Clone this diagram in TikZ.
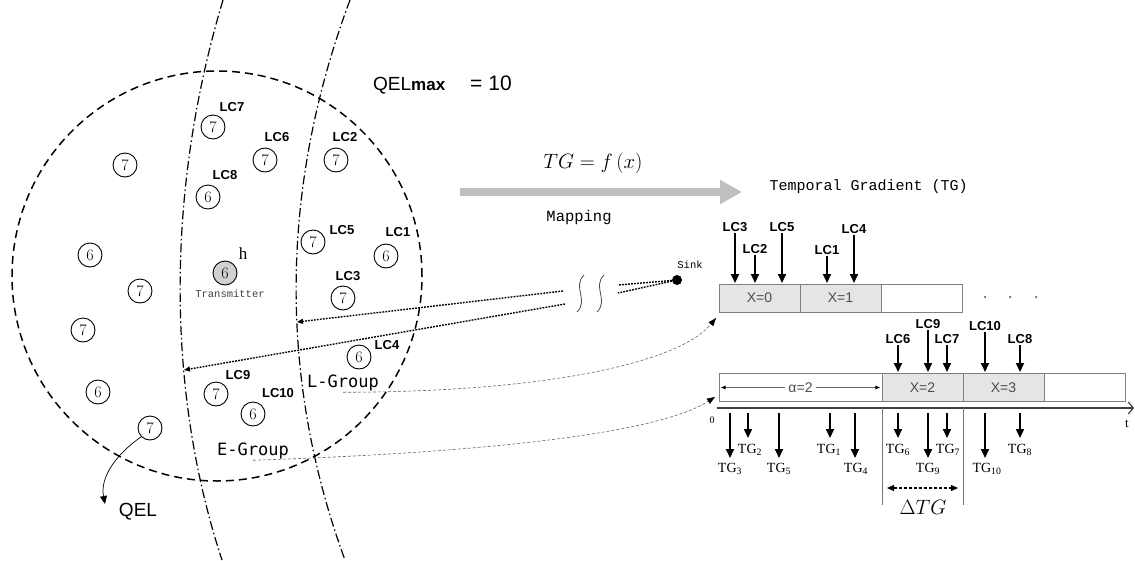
\documentclass[tikz,border=0pt]{standalone}
\usepackage{fontspec}
\usetikzlibrary{arrows.meta}
\newfontfamily\lsans{Liberation Sans}
\newfontfamily\lmono{Liberation Mono}
\newfontfamily\dmono{DejaVu Sans Mono}
\newfontfamily\lserif{Liberation Serif}
\begin{document}
\begin{tikzpicture}[x=1pt,y=-1pt,
 num/.style={circle,draw,line width=0.9pt,minimum size=24pt,inner sep=0pt,font=\fontsize{16}{16}\selectfont},
 lcl/.style={inner sep=1.5pt,font=\lsans\bfseries\fontsize{13}{13}\selectfont},
 zone/.style={dash pattern=on 8pt off 5pt,line width=1.5pt},
 ddot/.style={dash pattern=on 9pt off 3pt on 1.5pt off 3pt,line width=1.2pt},
 dotl/.style={dash pattern=on 1.8pt off 1.2pt,line width=1.4pt},
 link/.style={dash pattern=on 3pt off 2pt,line width=0.6pt,draw=black!60,-{Triangle[length=8pt,width=6pt,color=black]}},
 dar/.style={line width=1.8pt,-{Triangle[length=9pt,width=8pt]}},
 cell/.style={draw=black!50,line width=0.9pt,minimum height=28pt,minimum width=81pt,inner sep=0pt,font=\lsans\fontsize{14}{14}\selectfont,text=black!70},
 tgl/.style={inner sep=1pt,font=\lserif\fontsize{14}{14}\selectfont},
 grp/.style={inner sep=1pt,font=\dmono\fontsize{17}{17}\selectfont},
]
\useasboundingbox (0,0) rectangle (1135,560);

% zone and group boundaries
\node[circle,draw,zone,minimum size=410pt,inner sep=0pt] (zone) at (217,276) {};
\draw[ddot] (223,0) .. controls (166,190) and (166,390) .. (222,560);
\draw[ddot] (350,0) .. controls (279,190) and (279,380) .. (345,560);

% nodes in zone
\node[num] (n1) at (125,165) {7};
\node[num] (n2) at (90,255) {6};
\node[num] (n3) at (140,291) {7};
\node[num] (n4) at (83,330) {7};
\node[num] (n5) at (98,392) {6};
\node[num] (q) at (150,428) {7};
\node[num] (c7) at (213,127) {7};
\node[lcl] (l7) at (232,107) {LC7};
\node[num] (c6) at (265,160) {7};
\node[lcl] (l6) at (277,137) {LC6};
\node[num] (c2) at (336,160) {7};
\node[lcl] (l2) at (345,137) {LC2};
\node[num] (c8) at (208,197) {6};
\node[lcl] (l8) at (225,175) {LC8};
\node[num,fill=black!18] (tr) at (225,273) {6};
\node[font=\lserif\fontsize{17}{17}\selectfont] (h) at (243,254) {h};
\node[font=\lmono\fontsize{10.5}{10.5}\selectfont,text=black!75] (trl) at (230,294) {Transmitter};
\node[num] (c5) at (313,242) {7};
\node[lcl] (l5) at (342,230) {LC5};
\node[num] (c1) at (386,256) {6};
\node[lcl] (l1) at (398,232) {LC1};
\node[num] (c3) at (343,298) {7};
\node[lcl] (l3) at (348,276) {LC3};
\node[num] (c4) at (359,357) {6};
\node[lcl] (l4) at (387,345) {LC4};
\node[num] (c9) at (216,394) {7};
\node[lcl] (l9) at (238,375) {LC9};
\node[num] (c10) at (253,414) {6};
\node[lcl] (l10) at (278,393) {LC10};
\node[grp] (lg) at (343,383) {L-Group};
\node[grp] (eg) at (253,451) {E-Group};
\node[font=\lsans\fontsize{19}{19}\selectfont] (qel) at (138,512) {QEL};
\draw[line width=0.7pt,-{Triangle[length=8pt,width=7pt]}] (q.225) .. controls (115,455) and (100,478) .. (105,504);

\node[anchor=west,inner sep=0pt] (qmax) at (373,85) {\lsans\fontsize{19}{19}\selectfont QEL{\bfseries\fontsize{17}{17}\selectfont max}\hspace{25pt}{\fontsize{21}{21}\selectfont= 10}};

% mapping
\coordinate (m1) at (460,192);
\coordinate (m2) at (742,192);
\draw[line width=8pt,black!25,-{Triangle[length=22pt,width=23pt]}] (m1) -- (m2);
\node (tgf) at (593,163) {\fontsize{22}{22}\selectfont $TG = f\,(x)$};
\node[font=\lmono\fontsize{15.5}{15.5}\selectfont] (map) at (579,217) {Mapping};
\node[anchor=west,font=\lmono\fontsize{15}{15}\selectfont] (tgt) at (766,187) {Temporal Gradient (TG)};

% sink and routes
\node[circle,fill,minimum size=10pt,inner sep=0pt] (sink) at (677,280) {};
\node[font=\lmono\fontsize{10.5}{10.5}\selectfont] (sinkl) at (690,265) {Sink};
\coordinate (u1) at (618,285);
\coordinate (u2) at (618,293);
\coordinate (w1) at (563,291);
\coordinate (w2) at (565,304);
\coordinate (e1) at (297,322);
\coordinate (e2) at (184,370);
\draw[dotl] (sink) -- (u1);
\draw[dotl] (sink) -- (u2);
\draw[dotl,-{Triangle[length=6pt,width=5pt]}] (w1) -- (e1);
\draw[dotl,-{Triangle[length=6pt,width=5pt]}] (w2) -- (e2);
\draw[black!70,line width=0.8pt] (584,275) .. controls (572,287) and (589,300) .. (577,312);
\draw[black!70,line width=0.8pt] (604,275) .. controls (592,287) and (609,300) .. (597,312);

% timeline row 1
\node[cell,fill=black!10] (x0) at (759.5,298) {X=0};
\node[cell,fill=black!10] (x1) at (840.5,298) {X=1};
\node[cell,fill=white] (x1e) at (921.5,298) {};
\node[circle,fill=black!60,minimum size=2.5pt,inner sep=0pt] (d1) at (985,297) {};
\node[circle,fill=black!60,minimum size=2.5pt,inner sep=0pt] (d2) at (1010,297) {};
\node[circle,fill=black!60,minimum size=2.5pt,inner sep=0pt] (d3) at (1036,297) {};
\coordinate (r1) at (0,283);
\node[lcl] (t3) at (735,227) {LC3};
\node[lcl] (t2) at (755,249) {LC2};
\node[lcl] (t5) at (782,227) {LC5};
\node[lcl] (t1) at (827,250) {LC1};
\node[lcl] (t4) at (854,229) {LC4};
\foreach \n in {t3,t2,t5,t1,t4} \draw[dar] (\n) -- (\n |- r1);

% timeline row 2
\node[cell,fill=white,minimum width=163pt] (ab) at (800.5,387.5) {};
\node[cell,fill=black!10] (x2) at (922.5,387.5) {X=2};
\node[cell,fill=black!10] (x3) at (1003.5,387.5) {X=3};
\node[cell,fill=white] (x3e) at (1084.5,387.5) {};
\draw[line width=0.7pt,black!60,{Latex[length=5pt,width=4pt,color=black]}-{Latex[length=5pt,width=4pt,color=black]}] ([xshift=2pt]ab.west) -- node[fill=white,inner sep=3pt,text=black!70,font=\lsans\fontsize{14}{14}\selectfont] (alab) {α=2} ([xshift=-2pt]ab.east);
\coordinate (r2) at (0,372);
\node[lcl] (s6) at (898,339) {LC6};
\node[lcl] (s9) at (928,324) {LC9};
\node[lcl] (s7) at (947,339) {LC7};
\node[lcl] (s10) at (985,326) {LC10};
\node[lcl] (s8) at (1020,339) {LC8};
\foreach \n in {s6,s9,s7,s10,s8} \draw[dar] (\n) -- (\n |- r2);

% connectors from groups
\coordinate (k1) at (716,318);
\coordinate (k2) at (715,397);
\draw[link] (lg.south) .. controls (550,392) and (680,362) .. (k1);
\draw[link] (eg.south) .. controls (500,452) and (660,432) .. (k2);

% time axis
\coordinate (ax0) at (717,408);
\coordinate (ax1) at (1134,408);
\draw[line width=2.6pt,black!75,-{Straight Barb[length=5pt,width=12pt,line width=1.2pt]}] (ax0) -- (ax1);
\node[font=\lserif\fontsize{10}{10}\selectfont] (zero) at (712,420) {0};
\node[font=\lserif\fontsize{13}{13}\selectfont] (tl) at (1127,424) {t};
\node[tgl] (g3) at (730,469) {TG\textsubscript{3}};
\node[tgl] (g2) at (750,450) {TG\textsubscript{2}};
\node[tgl] (g5) at (779,469) {TG\textsubscript{5}};
\node[tgl] (g1) at (829,450) {TG\textsubscript{1}};
\node[tgl] (g4) at (856,469) {TG\textsubscript{4}};
\node[tgl] (g6) at (898,450) {TG\textsubscript{6}};
\node[tgl] (g9) at (928,469) {TG\textsubscript{9}};
\node[tgl] (g7) at (948,450) {TG\textsubscript{7}};
\node[tgl] (g10) at (987,469) {TG\textsubscript{10}};
\node[tgl] (g8) at (1020,450) {TG\textsubscript{8}};
\draw[dar] (730,413) -- (730,458);
\draw[dar] (748,413) -- (748,438);
\draw[dar] (779,413) -- (779,458);
\draw[dar] (830,413) -- (830,438);
\draw[dar] (855,413) -- (855,458);
\draw[dar] (898,413) -- (898,438);
\draw[dar] (928,413) -- (928,458);
\draw[dar] (947,413) -- (947,438);
\draw[dar] (985,413) -- (985,458);
\draw[dar] (1020,413) -- (1020,438);

% delta TG
\coordinate (v1a) at (882,408);
\coordinate (v1b) at (882,505);
\coordinate (v2a) at (963,408);
\coordinate (v2b) at (963,505);
\draw[black!55,line width=0.7pt] (v1a) -- (v1b);
\draw[black!55,line width=0.7pt] (v2a) -- (v2b);
\draw[dash pattern=on 3pt off 2pt,line width=1.2pt,{Triangle[length=7pt,width=6pt]}-{Triangle[length=7pt,width=6pt]}] ([xshift=5pt]v1a |- 0,488) -- ([xshift=-5pt]v2a |- 0,488);
\node[font=\fontsize{20}{20}\selectfont] (dtg) at (923,507) {$\Delta TG$};
\end{tikzpicture}
\end{document}
